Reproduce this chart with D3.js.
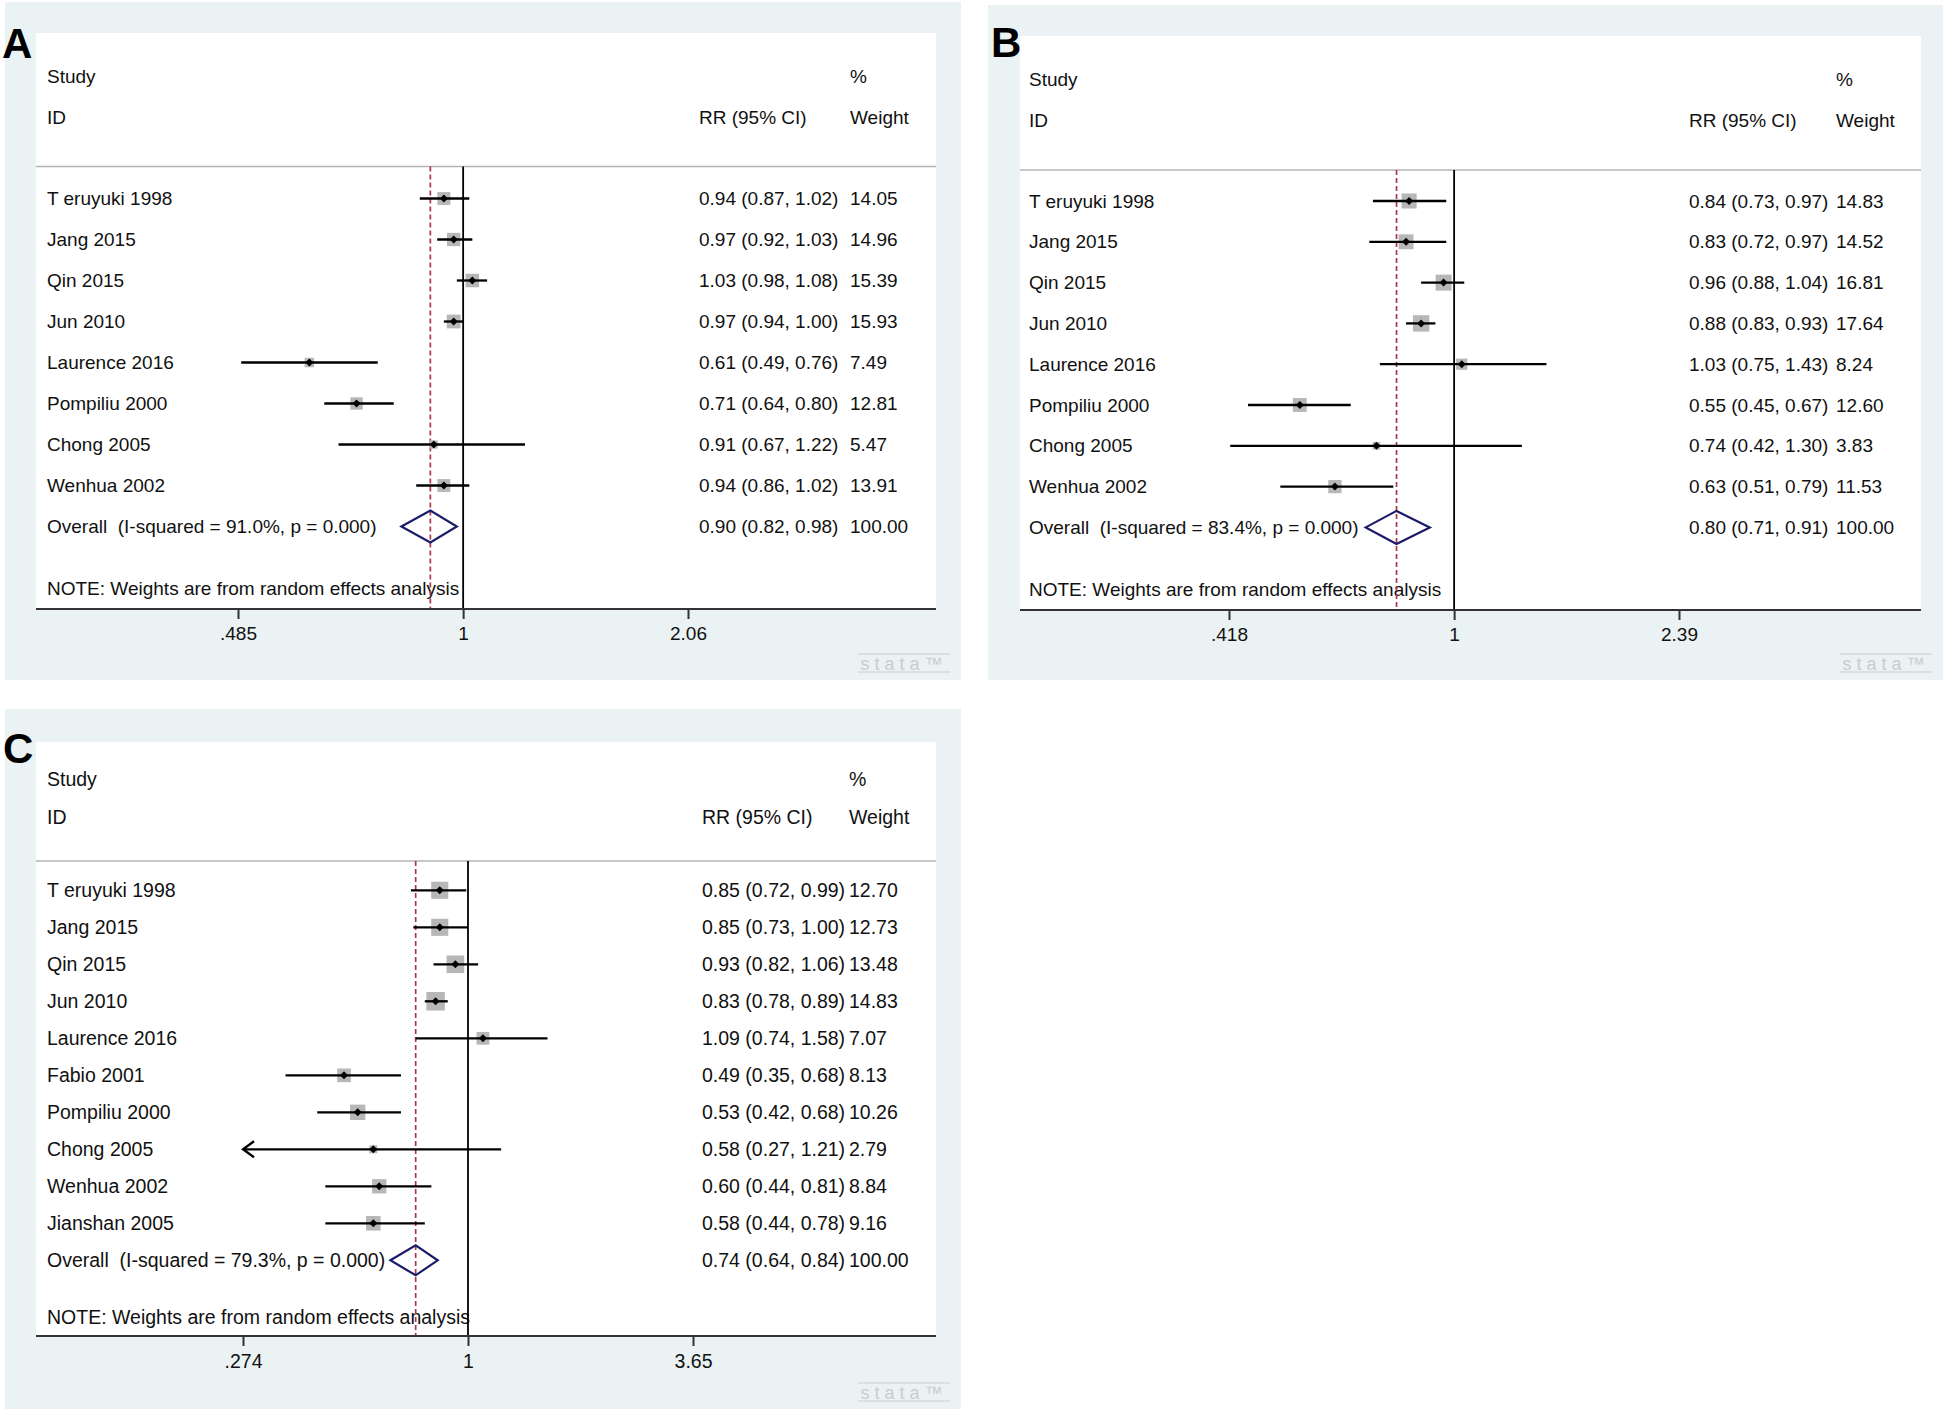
<!DOCTYPE html>
<html>
<head>
<meta charset="utf-8">
<script src="https://cdn.jsdelivr.net/npm/d3@7"></script>
<style>
  body { margin: 0; background: #fff; }
  text { font-family: "Liberation Sans", Arial, sans-serif; white-space: pre; }
</style>
</head>
<body>
<script>
// ---- Panel A data
const studiesA = ["T eruyuki 1998", "Jang 2015", "Qin 2015", "Jun 2010", "Laurence 2016", "Pompiliu 2000", "Chong 2005", "Wenhua 2002"];
const rrA = [0.94, 0.97, 1.03, 0.97, 0.61, 0.71, 0.91, 0.94];
const loA = [0.87, 0.92, 0.98, 0.94, 0.49, 0.64, 0.67, 0.86];
const hiA = [1.02, 1.03, 1.08, 1.00, 0.76, 0.80, 1.22, 1.02];
const weightA = [14.05, 14.96, 15.39, 15.93, 7.49, 12.81, 5.47, 13.91];
const overallA = [0.90, 0.82, 0.98];
const isqA = "91.0%";
const ticksA = [0.485, 1, 2.06];
const tickLabelsA = [".485", "1", "2.06"];

// ---- Panel B data
const studiesB = ["T eruyuki 1998", "Jang 2015", "Qin 2015", "Jun 2010", "Laurence 2016", "Pompiliu 2000", "Chong 2005", "Wenhua 2002"];
const rrB = [0.84, 0.83, 0.96, 0.88, 1.03, 0.55, 0.74, 0.63];
const loB = [0.73, 0.72, 0.88, 0.83, 0.75, 0.45, 0.42, 0.51];
const hiB = [0.97, 0.97, 1.04, 0.93, 1.43, 0.67, 1.30, 0.79];
const weightB = [14.83, 14.52, 16.81, 17.64, 8.24, 12.60, 3.83, 11.53];
const overallB = [0.80, 0.71, 0.91];
const isqB = "83.4%";
const ticksB = [0.418, 1, 2.39];
const tickLabelsB = [".418", "1", "2.39"];

// ---- Panel C data
const studiesC = ["T eruyuki 1998", "Jang 2015", "Qin 2015", "Jun 2010", "Laurence 2016", "Fabio 2001", "Pompiliu 2000", "Chong 2005", "Wenhua 2002", "Jianshan 2005"];
const rrC = [0.85, 0.85, 0.93, 0.83, 1.09, 0.49, 0.53, 0.58, 0.60, 0.58];
const loC = [0.72, 0.73, 0.82, 0.78, 0.74, 0.35, 0.42, 0.27, 0.44, 0.44];
const hiC = [0.99, 1.00, 1.06, 0.89, 1.58, 0.68, 0.68, 1.21, 0.81, 0.78];
const weightC = [12.70, 12.73, 13.48, 14.83, 7.07, 8.13, 10.26, 2.79, 8.84, 9.16];
const overallC = [0.74, 0.64, 0.84];
const isqC = "79.3%";
const ticksC = [0.274, 1, 3.65];
const tickLabelsC = [".274", "1", "3.65"];

const W = 1946, H = 1411;
const svg = d3.select("body").append("svg")
  .attr("width", W)
  .attr("height", H);

const f2 = d3.format(".2f");

function drawPanel(p, d) {
  const g = svg.append("g");

  // grey-blue graph region and white plot region
  g.append("rect")
    .attr("x", p.outer[0]).attr("y", p.outer[1])
    .attr("width", p.outer[2] - p.outer[0]).attr("height", p.outer[3] - p.outer[1])
    .attr("fill", "#eaf2f3");
  g.append("rect")
    .attr("x", p.plot[0]).attr("y", p.plot[1])
    .attr("width", p.plot[2] - p.plot[0]).attr("height", p.axisY - p.plot[1])
    .attr("fill", "#fff");

  // panel letter
  g.append("text")
    .attr("x", p.letterX).attr("y", p.letterY)
    .attr("font-size", 42).attr("font-weight", "bold")
    .text(p.letter);

  const fs = p.fs;
  const x = d3.scaleLog()
    .domain([d.ticks[0], d.ticks[2]])
    .range([p.one - 225, p.one + 225])
    .clamp(true);
  const y = d3.scaleLinear().domain([0, 1]).range([p.row0, p.row0 + p.step]);
  const n = d.studies.length;

  // header
  const hdr = [
    [p.labelX, p.studyY, "Study"], [p.labelX, p.idY, "ID"],
    [p.weightX, p.studyY, "%"], [p.rrX, p.idY, "RR (95% CI)"], [p.weightX, p.idY, "Weight"]
  ];
  g.selectAll(".hdr").data(hdr).enter().append("text")
    .attr("x", h => h[0]).attr("y", h => h[1]).attr("dy", "0.35em")
    .attr("font-size", fs).attr("fill", "#111")
    .text(h => h[2]);

  g.append("line")
    .attr("x1", p.plot[0]).attr("x2", p.plot[2])
    .attr("y1", p.lineY).attr("y2", p.lineY)
    .attr("stroke", "#b4b4b4").attr("stroke-width", 1.5);

  // rows text
  const rows = d.studies.map((s, i) => ({
    label: s, rr: d.rr[i], lo: d.lo[i], hi: d.hi[i], w: d.w[i], i: i
  }));
  const txt = rows.concat([{
    label: "Overall  (I-squared = " + d.isq + ", p = 0.000)",
    rr: d.overall[0], lo: d.overall[1], hi: d.overall[2], w: 100, i: n
  }]);
  g.selectAll(".lab").data(txt).enter().append("text")
    .attr("x", p.labelX).attr("y", r => y(r.i)).attr("dy", "0.35em")
    .attr("font-size", fs).attr("fill", "#111")
    .text(r => r.label);
  g.selectAll(".rr").data(txt).enter().append("text")
    .attr("x", p.rrX).attr("y", r => y(r.i)).attr("dy", "0.35em")
    .attr("font-size", fs).attr("fill", "#111")
    .text(r => f2(r.rr) + " (" + f2(r.lo) + ", " + f2(r.hi) + ")");
  g.selectAll(".wt").data(txt).enter().append("text")
    .attr("x", p.weightX).attr("y", r => y(r.i)).attr("dy", "0.35em")
    .attr("font-size", fs).attr("fill", "#111")
    .text(r => f2(r.w));

  g.append("text")
    .attr("x", p.labelX).attr("y", p.noteY).attr("dy", "0.35em")
    .attr("font-size", fs).attr("fill", "#111")
    .text("NOTE: Weights are from random effects analysis");

  // reference lines
  g.append("line")
    .attr("x1", x(1)).attr("x2", x(1))
    .attr("y1", p.lineY).attr("y2", p.axisY)
    .attr("stroke", "#000").attr("stroke-width", 1.8);
  g.append("line")
    .attr("x1", x(d.overall[0])).attr("x2", x(d.overall[0]))
    .attr("y1", p.lineY).attr("y2", p.axisY)
    .attr("stroke", "#a83a48").attr("stroke-width", 1.7)
    .attr("stroke-dasharray", "5,3");

  // weight boxes
  g.selectAll(".box").data(rows).enter().append("rect")
    .attr("x", r => x(r.rr) - p.k * Math.sqrt(r.w) / 2)
    .attr("y", r => y(r.i) - p.k * Math.sqrt(r.w) / 2)
    .attr("width", r => p.k * Math.sqrt(r.w))
    .attr("height", r => p.k * Math.sqrt(r.w))
    .attr("fill", "#b7b7b7");

  // confidence intervals
  g.selectAll(".ci").data(rows).enter().append("line")
    .attr("x1", r => x(r.lo)).attr("x2", r => x(r.hi))
    .attr("y1", r => y(r.i)).attr("y2", r => y(r.i))
    .attr("stroke", "#000").attr("stroke-width", 2.3);

  // arrows where the CI runs off the axis
  const off = rows.filter(r => r.lo < d.ticks[0]);
  g.selectAll(".arr").data(off).enter().append("path")
    .attr("d", r => {
      const xa = x(d.ticks[0]), ya = y(r.i);
      return "M" + (xa + 11) + "," + (ya - 8) + "L" + xa + "," + ya + "L" + (xa + 11) + "," + (ya + 8);
    })
    .attr("fill", "none").attr("stroke", "#000").attr("stroke-width", 2.3);

  // point estimates
  g.selectAll(".pt").data(rows).enter().append("path")
    .attr("d", r => {
      const cx = x(r.rr), cy = y(r.i), s = 4;
      return "M" + (cx - s) + "," + cy + "L" + cx + "," + (cy - s) + "L" + (cx + s) + "," + cy + "L" + cx + "," + (cy + s) + "Z";
    })
    .attr("fill", "#000");

  // pooled diamond
  const oy = y(n);
  g.append("path")
    .attr("d", "M" + x(d.overall[1]) + "," + oy +
      "L" + x(d.overall[0]) + "," + (oy - p.dh) +
      "L" + x(d.overall[2]) + "," + oy +
      "L" + x(d.overall[0]) + "," + (oy + p.dh) + "Z")
    .attr("fill", "none").attr("stroke", "#1b1b6b").attr("stroke-width", 2.2);

  // x axis
  g.append("line")
    .attr("x1", p.plot[0]).attr("x2", p.plot[2])
    .attr("y1", p.axisY).attr("y2", p.axisY)
    .attr("stroke", "#333").attr("stroke-width", 2);
  const ax = g.append("g")
    .attr("transform", "translate(0," + p.axisY + ")")
    .call(d3.axisBottom(x)
      .tickValues(d.ticks)
      .tickFormat((v, i) => d.tickLabels[i])
      .tickSize(10).tickSizeOuter(0).tickPadding(8));
  ax.select(".domain").remove();
  ax.selectAll(".tick line").attr("stroke", "#333").attr("stroke-width", 2);
  ax.selectAll(".tick text")
    .attr("font-size", fs).attr("fill", "#111")
    .attr("font-family", "'Liberation Sans', Arial, sans-serif");

  // stata logo mark
  const R = p.outer[2], B = p.outer[3];
  g.append("line").attr("x1", R - 103).attr("x2", R - 11).attr("y1", B - 26).attr("y2", B - 26)
    .attr("stroke", "#c6ced2").attr("stroke-width", 1);
  g.append("line").attr("x1", R - 103).attr("x2", R - 11).attr("y1", B - 8).attr("y2", B - 8)
    .attr("stroke", "#c6ced2").attr("stroke-width", 1);
  g.append("text")
    .attr("x", R - 57).attr("y", B - 10.5)
    .attr("text-anchor", "middle")
    .attr("font-size", 18).attr("letter-spacing", 5)
    .attr("fill", "#c6ced2")
    .text("stata\u2122");
}

drawPanel(
  { outer: [5, 2, 961, 680], plot: [36, 33, 936], axisY: 609, letter: "A", letterX: 2, letterY: 58,
    one: 463, studyY: 76, idY: 117, lineY: 166.5, row0: 198.5, step: 41, noteY: 588,
    labelX: 47, rrX: 699, weightX: 850, fs: 19, k: 3.45, dh: 16 },
  { studies: studiesA, rr: rrA, lo: loA, hi: hiA, w: weightA, overall: overallA, isq: isqA,
    ticks: ticksA, tickLabels: tickLabelsA });

drawPanel(
  { outer: [988, 5, 1943, 680], plot: [1020, 36, 1921], axisY: 610, letter: "B", letterX: 991, letterY: 57,
    one: 1454, studyY: 79.5, idY: 120.5, lineY: 170, row0: 201, step: 40.8, noteY: 589,
    labelX: 1029, rrX: 1689, weightX: 1836, fs: 19, k: 3.9, dh: 16.5 },
  { studies: studiesB, rr: rrB, lo: loB, hi: hiB, w: weightB, overall: overallB, isq: isqB,
    ticks: ticksB, tickLabels: tickLabelsB });

drawPanel(
  { outer: [5, 709, 961, 1409], plot: [36, 742, 936], axisY: 1336, letter: "C", letterX: 3, letterY: 763,
    one: 468, studyY: 779, idY: 817, lineY: 861, row0: 890.3, step: 37, noteY: 1317,
    labelX: 47, rrX: 702, weightX: 849, fs: 19.5, k: 4.8, dh: 15 },
  { studies: studiesC, rr: rrC, lo: loC, hi: hiC, w: weightC, overall: overallC, isq: isqC,
    ticks: ticksC, tickLabels: tickLabelsC });
</script>
</body>
</html>
